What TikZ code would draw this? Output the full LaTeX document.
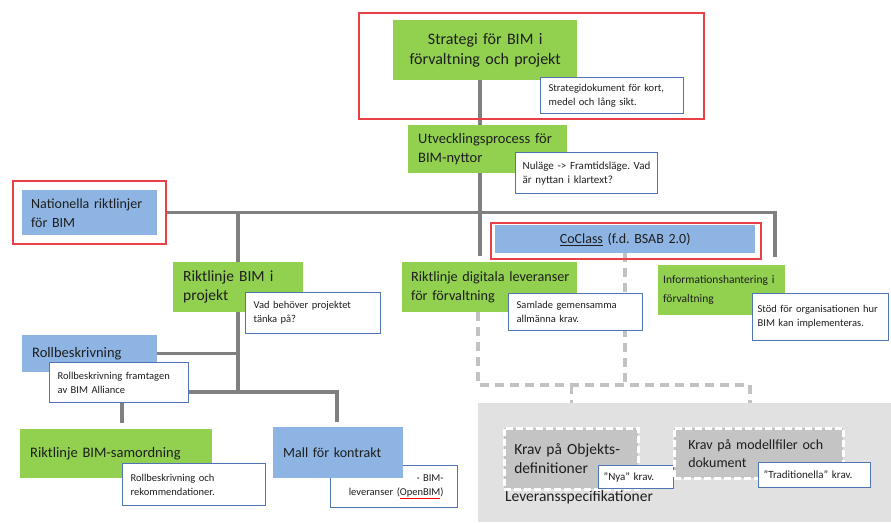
\documentclass[tikz,border=0pt]{standalone}
\usepackage{fontspec}
\setmainfont{Carlito}
\usetikzlibrary{backgrounds}

\definecolor{boxgreen}{RGB}{146,208,80}
\definecolor{boxblue}{RGB}{141,180,226}
\definecolor{boxgray}{RGB}{196,196,196}
\definecolor{areagray}{RGB}{225,225,225}
\definecolor{noteblue}{RGB}{79,117,181}
\definecolor{framered}{RGB}{232,64,70}
\definecolor{linegray}{RGB}{128,128,128}
\definecolor{dashgray}{RGB}{194,194,194}
\definecolor{textdark}{RGB}{30,30,30}

\frenchspacing

\begin{document}
\begin{tikzpicture}[x=1pt,y=-1pt,
  box/.style={rectangle,anchor=north west,inner xsep=10pt,inner ysep=0pt,align=left,text=textdark,font=\fontsize{14.5}{19}\selectfont},
  greenbox/.style={box,fill=boxgreen},
  bluebox/.style={box,fill=boxblue},
  graybox/.style={box,fill=boxgray,draw=white,line width=2.5pt,dash pattern=on 7pt off 3pt},
  note/.style={rectangle,anchor=north west,draw=noteblue,line width=1.3pt,fill=white,inner xsep=8pt,inner ysep=0pt,align=left,text=textdark,font=\fontsize{10.5}{14}\selectfont},
  smallnote/.style={note,inner xsep=5pt,font=\fontsize{11}{13}\selectfont},
  redframe/.style={rectangle,anchor=north west,draw=framered,line width=2pt,inner sep=0pt},
  link/.style={draw=linegray,line width=3.5pt},
  dashlink/.style={draw=dashgray,line width=3.5pt,dash pattern=on 9pt off 6pt}]

\useasboundingbox (0,0) rectangle (891,522);

% top
\node[redframe,minimum width=345pt,minimum height=106pt] (stratframe) at (358,12) {};
\node[greenbox,text width=164pt,align=center,minimum height=60pt,font=\fontsize{16}{20}\selectfont] (strat) at (393,20) {Strategi för BIM i\\förvaltning och projekt};
\node[note,text width=127pt,minimum height=36pt] (stratnote) at (540,77) {Strategidokument för kort,\\medel och lång sikt.};

\node[greenbox,text width=139pt,minimum height=48pt] (utv) at (408,125) {Utvecklingsprocess för\\BIM-nyttor};
\node[note,inner xsep=7pt,text width=128pt,minimum height=41pt,font=\fontsize{11}{14}\selectfont] (utvnote) at (515,152) {Nuläge -> Framtidsläge. Vad\\är nyttan i klartext?};

% middle row
\node[redframe,minimum width=153pt,minimum height=63pt] (natframe) at (12,180) {};
\node[bluebox,inner xsep=9pt,text width=117pt,minimum height=45pt,font=\fontsize{14}{19}\selectfont] (nat) at (22,190) {Nationella riktlinjer\\för BIM};

\node[bluebox,text width=240pt,align=center,minimum height=28pt,font=\fontsize{14}{17}\selectfont] (co) at (495,225) {\underline{CoClass} (f.d. BSAB 2.0)};
\node[redframe,minimum width=270pt,minimum height=36pt] (coframe) at (490,222) {};

\node[greenbox,text width=110pt,minimum height=50pt,font=\fontsize{15.5}{19}\selectfont] (rbp) at (173,262) {Riktlinje BIM i\\projekt};
\node[note,text width=119pt,minimum height=41pt] (rbpnote) at (245,292) {Vad behöver projektet\\tänka på?};

\node[greenbox,inner xsep=9pt,text width=157pt,minimum height=50pt,font=\fontsize{14.2}{19}\selectfont] (rdl) at (402,262) {\mbox{Riktlinje digitala leveranser}\\för förvaltning};
\node[note,text width=118pt,minimum height=37pt] (rdlnote) at (508,293) {Samlade gemensamma\\allmänna krav.};

\node[greenbox,inner xsep=5pt,text width=117pt,minimum height=50pt,font=\fontsize{11.5}{19}\selectfont] (inf) at (658,265) {Informationshantering i\\förvaltning};
\node[note,inner xsep=5pt,text width=126pt,minimum height=47pt] (infnote) at (752,293) {Stöd för organisationen hur\\BIM kan implementeras.};

% lower left
\node[bluebox,text width=115pt,minimum height=37pt] (rol) at (22,335) {Rollbeskrivning\\[9pt]};
\node[note,text width=123pt,minimum height=40pt] (rolnote) at (49,362) {Rollbeskrivning framtagen\\av BIM Alliance};

\node[greenbox,text width=172pt,minimum height=49pt] (sam) at (20,429) {Riktlinje BIM-samordning};
\node[note,text width=127pt,minimum height=42pt] (samnote) at (122,463) {Rollbeskrivning och\\rekommendationer.};

\node[note,text width=99pt,minimum width=127pt,minimum height=42pt,align=right] (mallnote) at (330,465) {· BIM-\\leveranser ({\color{red}\underline{\color{textdark}OpenBIM}})};
\node[bluebox,text width=110pt,minimum height=51pt,font=\fontsize{14}{19}\selectfont] (mall) at (273,427) {Mall för kontrakt};

% leveransspecifikationer
\node[rectangle,anchor=north west,fill=areagray,minimum width=413pt,minimum height=119pt,inner sep=0pt] (lev) at (478,403) {};
\node[anchor=west,inner sep=0pt,text=textdark,font=\fontsize{15.5}{18}\selectfont] (levtext) at (505,497) {Leveransspecifikationer};

\node[graybox,text width=114pt,minimum height=61pt,font=\fontsize{15.5}{19}\selectfont] (obj) at (503,427) {Krav på Objekts-\\definitioner\\[4pt]};
\node[smallnote,text width=65pt,minimum height=23pt] (objnote) at (598,465) {”Nya” krav.};

\node[graybox,inner xsep=14pt,text width=141pt,minimum height=50pt,font=\fontsize{14}{18}\selectfont] (mod) at (673,427) {Krav på modellfiler och\\dokument};
\node[smallnote,text width=102pt,minimum height=25pt] (modnote) at (758,462) {”Traditionella” krav.};

\coordinate (spine) at (480,0);
\coordinate (busR) at (775,0);
\coordinate (fork) at (122,392);
\coordinate (forkR) at (337,392);
\coordinate (dashL) at (478,385);
\coordinate (dashR) at (750,385);

\begin{scope}[on background layer]
  \fill[areagray] (lev.north west) rectangle (lev.south east);
  \draw[link] (strat.south -| spine) -- (utv.north -| spine);
  \draw[link] (utv.south -| spine) -- (natframe.east -| spine);
  \draw[link] (natframe.east) -- (natframe.east -| busR) -- ([yshift=8pt]inf.north -| busR);
  \draw[link] (natframe.east -| spine) -- ([yshift=6pt]rdl.north -| spine);
  \draw[link] (natframe.east -| rbp.north) -- (rbp.north);
  \draw[link] (rbp.south) -- (rbp.south |- fork);
  \draw[link] (rol.east) -- (rol.east -| rbp.south);
  \draw[link] ([yshift=6pt]sam.north -| fork) -- (fork) -- (forkR) -- ([yshift=5pt]mall.north -| forkR);
  \draw[dashlink] (co.south) -- (co.south |- dashL);
  \draw[dashlink] (rdl.south -| dashL) -- (dashL) -- (dashR) -- (mod.north -| dashR);
  \draw[dashlink] (dashL -| obj.north) -- (obj.north);
\end{scope}

\end{tikzpicture}
\end{document}
